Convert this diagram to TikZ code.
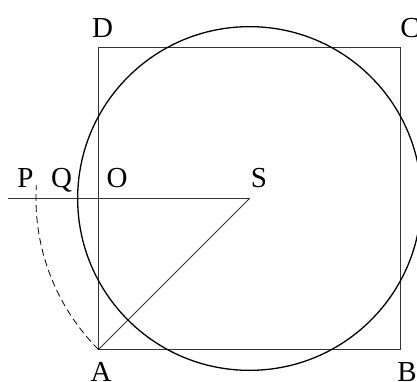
\documentclass[tikz,border=0pt]{standalone}
\usepackage{fontspec}
\setmainfont{Liberation Serif}
\begin{document}
\begin{tikzpicture}[x=1pt,y=-1pt,
  thinline/.style={line width=0.8pt,draw=black!80},
  circline/.style={line width=1.3pt,draw=black},
  dashline/.style={line width=0.8pt,draw=black,dash pattern=on 7pt off 4pt},
  lbl/.style={font=\fontsize{29}{30}\selectfont,inner sep=0pt,anchor=base}]
\useasboundingbox (0,0) rectangle (417,382);
\clip (0,0) rectangle (417,382);
% points
\coordinate (S) at (249.5,198.5);
\coordinate (A) at (98.5,349.5);
\coordinate (B) at (400.5,349.5);
\coordinate (C) at (400.5,47.5);
\coordinate (D) at (98.5,47.5);
\coordinate (L) at (8,198.5);
% square
\draw[thinline] (A) -- (B) -- (C) -- (D) -- cycle;
% horizontal line and diagonal
\draw[thinline] (L) -- (S);
\draw[thinline] (S) -- (A);
% circle (Vitruvian radius)
\draw[circline] (S) circle[radius=171.85];
% dashed arc centered at S through A
\draw[dashline] (A) arc[start angle=135, end angle=183.5, radius=213.55];
% labels
\node[lbl] (lP) at (25.5,187) {P};
\node[lbl] (lQ) at (61.5,187) {Q};
\node[lbl] (lO) at (117,187) {O};
\node[lbl] (lS) at (259,187) {S};
\node[lbl] (lD) at (102.5,38) {D};
\node[lbl] (lC) at (410,38) {C};
\node[lbl] (lA) at (101,381) {A};
\node[lbl] (lB) at (407,381) {B};
\end{tikzpicture}
\end{document}
